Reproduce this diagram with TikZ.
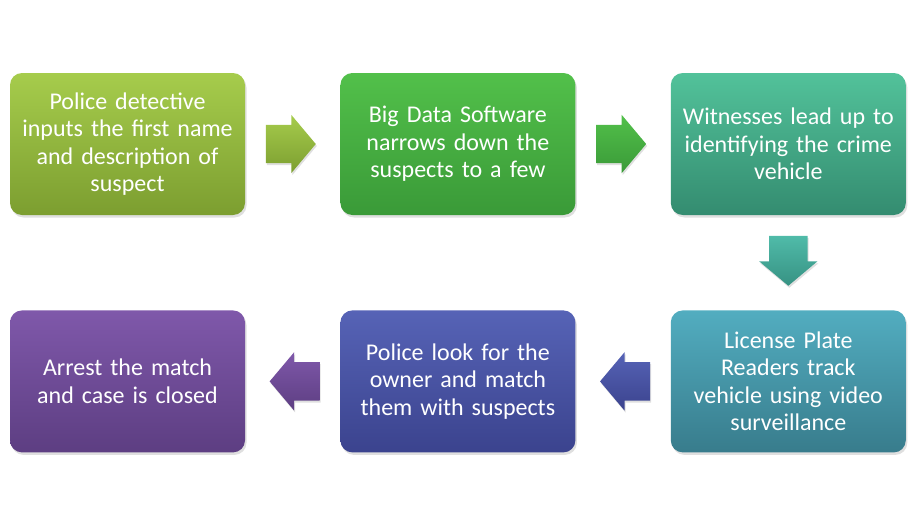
\documentclass[tikz,border=0pt]{standalone}
\usepackage{fontspec}
\setmainfont{Carlito}
\usepackage{tikz}
\usetikzlibrary{positioning,shapes.arrows,shadows,calc}
\definecolor{limetop}{HTML}{A6CC4C}
\definecolor{limebot}{HTML}{7C9E30}
\definecolor{greentop}{HTML}{52C04A}
\definecolor{greenbot}{HTML}{3A9A38}
\definecolor{seatop}{HTML}{52C29A}
\definecolor{seabot}{HTML}{348C70}
\definecolor{downtop}{HTML}{50BBA9}
\definecolor{downbot}{HTML}{379283}
\definecolor{tealtop}{HTML}{52ADC0}
\definecolor{tealbot}{HTML}{387C8C}
\definecolor{indigotop}{HTML}{5663B6}
\definecolor{indigobot}{HTML}{3B438E}
\definecolor{plumtop}{HTML}{7F58AA}
\definecolor{plumbot}{HTML}{5D3E82}

\begin{document}
\begin{tikzpicture}[
  x=1pt,y=-1pt,
  node distance=95pt,
  stage/.style={rounded corners=12pt,minimum width=235pt,minimum height=142pt,
                text width=220pt,align=center,text=white,inner sep=0pt,
                font=\fontsize{24}{27.5}\selectfont,
                drop shadow={opacity=0.25,shadow xshift=1.5pt,shadow yshift=-2.5pt}},
  blockarrow/.style={single arrow,single arrow head extend=10pt,single arrow tip angle=100,
                inner xsep=0pt,inner ysep=19pt,minimum height=50pt,
                drop shadow={opacity=0.25,shadow xshift=1pt,shadow yshift=-2pt}}
]
\useasboundingbox (0,0) rectangle (922,525);

%------ top row ---------------------------------------------------------------
\node[stage,top color=limetop,bottom color=limebot] (detect) at (127.5,144)
      {Police detective\\inputs the first name\\and description of\\suspect};
\node[stage,top color=greentop,bottom color=greenbot,right=of detect] (narrow)
      {Big Data Software\\narrows down the\\suspects to a few};
\node[stage,top color=seatop,bottom color=seabot,right=of narrow] (witness)
      {Witnesses lead up to\\identifying the crime\\vehicle};

%------ bottom row ------------------------------------------------------------
\node[stage,top color=tealtop,bottom color=tealbot,below=of witness] (plate)
      {License Plate\\Readers track\\vehicle using video\\surveillance};
\node[stage,top color=indigotop,bottom color=indigobot,left=of plate] (owner)
      {Police look for the\\owner and match\\them with suspects};
\node[stage,top color=plumtop,bottom color=plumbot,left=of owner] (arrest)
      {Arrest the match\\and case is closed};

%------ block arrows ----------------------------------------------------------
\node[blockarrow,xshift=-10pt,top color=limetop,bottom color=limebot] (a1)
      at ($(detect.east)!0.5!(narrow.west)$) {};
\node[blockarrow,xshift=-10pt,top color=greentop,bottom color=greenbot] (a2)
      at ($(narrow.east)!0.5!(witness.west)$) {};
\node[blockarrow,rotate=-90,xshift=-10pt,top color=downtop,bottom color=downbot] (a3)
      at ($(witness.south)!0.5!(plate.north)$) {};
\node[blockarrow,shape border rotate=180,xshift=10pt,top color=indigotop,bottom color=indigobot] (a4)
      at ($(plate.west)!0.5!(owner.east)$) {};
\node[blockarrow,shape border rotate=180,xshift=10pt,top color=plumtop,bottom color=plumbot] (a5)
      at ($(owner.west)!0.5!(arrest.east)$) {};
\end{tikzpicture}
\end{document}
